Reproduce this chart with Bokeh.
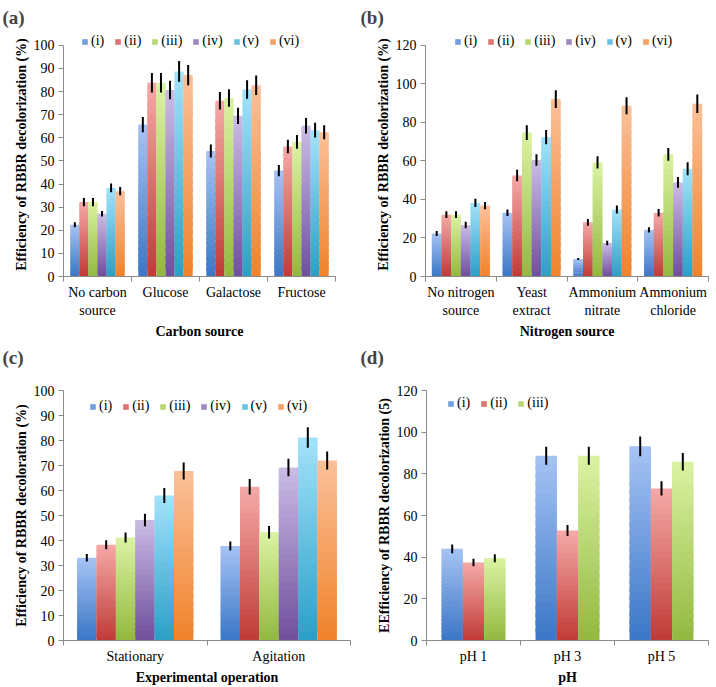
from bokeh.plotting import figure
from bokeh.models import ColumnDataSource, FixedTicker, Legend, LegendItem, Range1d, Title
from bokeh.layouts import row, column
from bokeh.embed import file_html
from bokeh.resources import INLINE

# ---------------- data ----------------
series_six = ["(i)", "(ii)", "(iii)", "(iv)", "(v)", "(vi)"]
series_three = ["(i)", "(ii)", "(iii)"]

carbon_cats = ["No carbon\nsource", "Glucose", "Galactose", "Fructose"]
carbon_mean = [
    [22.4, 65.7, 54.3, 45.8],
    [32.2, 83.8, 76.0, 56.2],
    [32.2, 83.8, 77.2, 58.2],
    [27.1, 80.7, 69.5, 65.2],
    [38.3, 88.7, 80.9, 63.3],
    [36.9, 87.1, 82.7, 62.4],
]
carbon_err = [
    [1.1, 3.3, 2.8, 2.4],
    [1.8, 4.2, 3.8, 2.9],
    [1.8, 4.2, 3.8, 3.0],
    [1.2, 4.0, 3.5, 3.4],
    [1.9, 4.5, 4.0, 3.2],
    [1.8, 4.4, 4.2, 3.0],
]
carbon_yticks = [0, 10, 20, 30, 40, 50, 60, 70, 80, 90, 100]

nitrogen_cats = ["No nitrogen\nsource", "Yeast\nextract", "Ammonium\nnitrate", "Ammonium\nchloride"]
nitrogen_mean = [
    [22.3, 33.1, 9.1, 24.2],
    [32.1, 52.4, 28.1, 33.1],
    [32.1, 74.7, 59.2, 63.4],
    [26.7, 60.5, 17.4, 48.8],
    [38.2, 72.3, 34.8, 55.9],
    [36.8, 92.1, 88.6, 89.6],
]
nitrogen_err = [
    [1.3, 1.7, 0.5, 1.3],
    [1.8, 3.0, 1.7, 1.9],
    [1.8, 3.8, 3.2, 3.3],
    [1.7, 3.0, 1.2, 2.8],
    [2.1, 3.7, 2.1, 3.4],
    [1.9, 4.6, 4.4, 4.8],
]
nitrogen_yticks = [0, 20, 40, 60, 80, 100, 120]

operation_cats = ["Stationary", "Agitation"]
operation_mean = [
    [33.1, 37.8],
    [38.3, 61.5],
    [41.2, 43.3],
    [48.2, 69.2],
    [58.0, 81.2],
    [67.8, 72.0],
]
operation_err = [
    [1.5, 1.8],
    [1.8, 3.1],
    [2.0, 2.5],
    [2.5, 3.5],
    [3.0, 4.1],
    [3.4, 3.6],
]
operation_yticks = [0, 10, 20, 30, 40, 50, 60, 70, 80, 90, 100]

ph_cats = ["pH 1", "pH 3", "pH 5"]
ph_mean = [
    [44.0, 88.7, 93.2],
    [37.4, 52.8, 73.0],
    [39.5, 88.7, 85.8],
]
ph_err = [
    [2.1, 4.3, 4.7],
    [1.8, 2.6, 3.4],
    [1.9, 4.3, 4.2],
]
ph_yticks = [0, 20, 40, 60, 80, 100, 120]

# ---------------- style ----------------
FONT = "Liberation Serif"
GREY = "#8a8a8a"
bottom_colors = ["#3a76c6", "#c03a37", "#93b840", "#6e4f9c", "#2a9fc6", "#f0822a"]
top_colors = ["#a6c3f4", "#f5aaa8", "#daf3a2", "#cbbce6", "#a4e2fa", "#fbc09a"]
NSTRIP = 24
LEG_H = 18


def hex2rgb(h):
    h = h.lstrip("#")
    return tuple(int(h[i:i + 2], 16) for i in (0, 2, 4))


def lerp(c1, c2, t):
    a, b = hex2rgb(c1), hex2rgb(c2)
    return "#%02x%02x%02x" % tuple(int(round(a[i] + (b[i] - a[i]) * t)) for i in range(3))


def panel(letter, cats, means, errs, names, yticks, ylabel, xlabel, group_frac,
          width, height, left, right, top, bottom, pad, title_mode,
          leg_x, leg_below_level):
    n_cat = len(cats)
    n_ser = len(names)
    ymax = yticks[-1]
    fh = height - top - bottom          # frame height in px
    level_px = fh - pad                 # px from frame bottom to ymax
    yend = ymax * fh / level_px
    p = figure(width=width, height=height, output_backend="svg", toolbar_location=None,
               x_range=Range1d(0, n_cat), y_range=Range1d(yticks[0], yend),
               min_border_left=left, min_border_right=right,
               min_border_top=top, min_border_bottom=bottom)
    p.title = None
    p.outline_line_color = None
    p.grid.visible = False
    p.background_fill_color = "white"
    p.border_fill_color = "white"

    bw = group_frac / n_ser
    items = []
    for s in range(n_ser):
        xs = [c + 0.5 + (s - (n_ser - 1) / 2) * bw for c in range(n_cat)]
        sx, sb, st, sc = [], [], [], []
        for c in range(n_cat):
            v = means[s][c]
            for k in range(NSTRIP):
                sx.append(xs[c])
                sb.append(v * k / NSTRIP)
                st.append(min(v, v * (k + 1.6) / NSTRIP))
                sc.append(lerp(bottom_colors[s], top_colors[s], (k + 0.5) / NSTRIP))
        src = ColumnDataSource(dict(x=sx, bottom=sb, top=st, color=sc))
        r = p.vbar(x="x", width=bw, bottom="bottom", top="top", fill_color="color",
                   line_color=None, source=src)
        items.append(LegendItem(label=names[s], renderers=[r], index=NSTRIP // 2))
        lo = [means[s][c] - errs[s][c] for c in range(n_cat)]
        hi = [means[s][c] + errs[s][c] for c in range(n_cat)]
        p.segment(x0=xs, y0=lo, x1=xs, y1=hi, line_color="black", line_width=2)

    # x axis: labels at centres, ticks at category boundaries
    xa = p.xaxis[0]
    xa.ticker = FixedTicker(ticks=[c + 0.5 for c in range(n_cat)],
                            minor_ticks=list(range(n_cat + 1)))
    xa.major_label_overrides = {c + 0.5: cats[c] for c in range(n_cat)}
    xa.major_tick_line_color = None
    xa.major_tick_out = 5
    xa.major_tick_in = 0
    xa.minor_tick_in = 0
    xa.minor_tick_out = 5
    xa.minor_tick_line_color = GREY
    xa.axis_line_color = GREY
    xa.major_label_standoff = 3
    xa.major_label_text_font = FONT
    xa.major_label_text_font_size = "14px"
    xa.major_label_text_color = "black"
    xa.axis_label = xlabel
    xa.axis_label_text_font = FONT
    xa.axis_label_text_font_size = "14px"
    xa.axis_label_text_font_style = "bold"
    xa.axis_label_text_color = "black"
    xa.axis_label_standoff = 3

    ya = p.yaxis[0]
    ya.ticker = FixedTicker(ticks=yticks, minor_ticks=[])
    ya.bounds = (yticks[0], ymax)
    ya.major_tick_out = 5
    ya.major_tick_in = 0
    ya.major_tick_line_color = GREY
    ya.axis_line_color = GREY
    ya.major_label_standoff = 4
    ya.major_label_text_font = FONT
    ya.major_label_text_font_size = "14px"
    ya.major_label_text_color = "black"
    ya.axis_label = ylabel
    ya.axis_label_text_font = FONT
    ya.axis_label_text_font_size = "14px"
    ya.axis_label_text_font_style = "bold"
    ya.axis_label_text_color = "black"
    ya.axis_label_standoff = 2

    # panel letter
    if title_mode == "two_line":
        ttl = Title(text=letter + "\n", text_font=FONT, text_font_size="19px",
                    text_font_style="bold", align="left", vertical_align="top",
                    offset=-left + 2, standoff=0)
    else:
        ttl = Title(text=letter, text_font=FONT, text_font_size="19px",
                    text_font_style="bold", align="left", vertical_align="bottom",
                    offset=-left + 2, standoff=9)
    p.add_layout(ttl, "above")

    legend = Legend(items=items, orientation="horizontal",
                    location=(leg_x, level_px - leg_below_level - LEG_H // 2),
                    glyph_width=7, glyph_height=7, label_standoff=3, spacing=10,
                    padding=0, margin=0, label_height=LEG_H, label_width=0,
                    border_line_color=None, background_fill_alpha=0,
                    label_text_font=FONT, label_text_font_size="14px",
                    label_text_color="black")
    p.add_layout(legend)
    return p


pa = panel("(a)", carbon_cats, carbon_mean, carbon_err, series_six, carbon_yticks,
           "Efficiency of RBBR decolorization (%)", "Carbon source", 0.8,
           358, 341, 63, 23, 30, 63, 13, "one_line", 18, 0)
pb = panel("(b)", nitrogen_cats, nitrogen_mean, nitrogen_err, series_six, nitrogen_yticks,
           "Efficiency of RBBR decolorization (%)", "Nitrogen source", 0.82,
           358, 341, 67, 8, 30, 63, 13, "one_line", 29, 0)
pc = panel("(c)", operation_cats, operation_mean, operation_err, series_six, operation_yticks,
           "Efficiency of RBBR decoloration (%)", "Experimental operation", 0.81,
           358, 346, 63, 8, 49, 46, 0, "two_line", 26, 17)
pd_ = panel("(d)", ph_cats, ph_mean, ph_err, series_three, ph_yticks,
            "EEfficiency of RBBR decolorization (5)", "pH", 0.68,
            358, 346, 68, 8, 49, 46, 0, "two_line", 21, 14)

layout = column(row(pa, pb), row(pc, pd_))
open("out.html", "w").write(file_html(layout, INLINE))
